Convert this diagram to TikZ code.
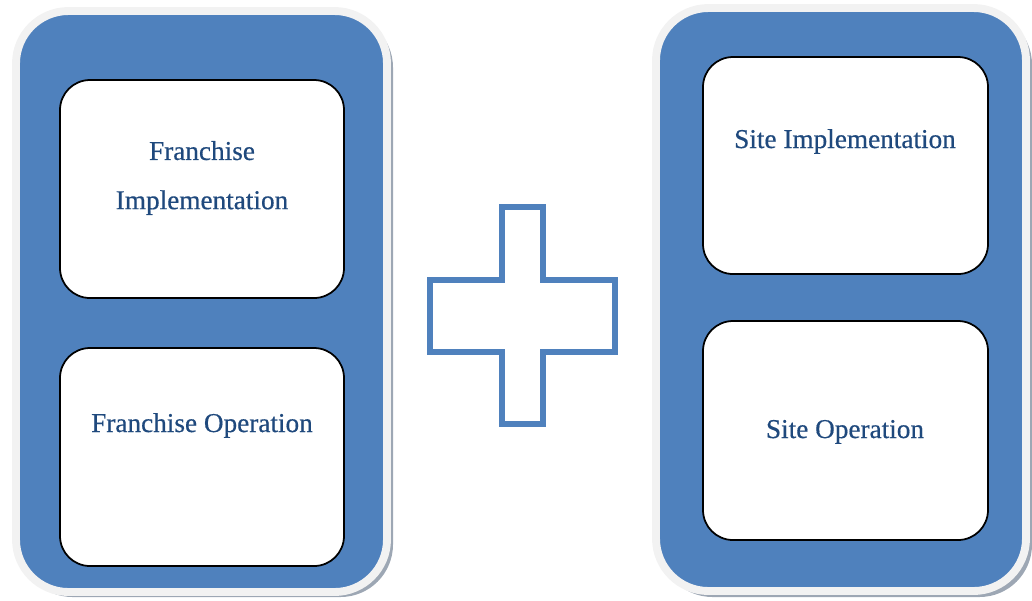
\documentclass[tikz,border=0pt]{standalone}
\usepackage{fontspec}
\setmainfont{Liberation Serif}
\newfontfamily\lblfont[FakeBold=0.5]{Liberation Serif}
\usetikzlibrary{calc}

\definecolor{panelblue}{HTML}{4F81BD}
\definecolor{textblue}{HTML}{1F497D}
\definecolor{rimgray}{HTML}{F2F2F2}
\definecolor{shadowgray}{HTML}{9DA7B4}

\tikzset{
    panel/.style={draw=rimgray, line width=4.5pt, fill=panelblue, rounded corners=1.05cm},
    panelshadow/.style={fill=shadowgray, rounded corners=1.05cm},
    box/.style={draw=black, line width=1pt, fill=white, rounded corners=0.6cm},
    lbl/.style={text=textblue, align=center, font=\lblfont\fontsize{15.5}{28}\selectfont}
}

\begin{document}
\begin{tikzpicture}[x=0.02cm, y=-0.02cm]
    \useasboundingbox (0,0) rectangle (1032,600);

    % left panel
    \fill[panelshadow] (20,15) rectangle (393,597);
    \draw[panel] (16,11) rectangle (387,592);
    \node[box, minimum width=284*0.02cm, minimum height=218*0.02cm] (fi) at (202,189) {};
    \node[box, minimum width=284*0.02cm, minimum height=218*0.02cm] (fo) at (202,457) {};
    \node[lbl] (fitext) at (202,178) {Franchise\\Implementation};
    \node[lbl, anchor=base] (fotext) at (202,432) {Franchise Operation};

    % plus sign
    \draw[panelblue, line width=3.4pt, fill=white]
        (430,280) -- (502,280) -- (502,207) -- (543,207) -- (543,280) -- (615,280)
        -- (615,352) -- (543,352) -- (543,424) -- (502,424) -- (502,352) -- (430,352) -- cycle;

    % right panel
    \fill[panelshadow] (660,12) rectangle (1032,597);
    \draw[panel] (656,8) rectangle (1026,591);
    \node[box, minimum width=285*0.02cm, minimum height=217*0.02cm] (si) at (845.5,165.5) {};
    \node[box, minimum width=285*0.02cm, minimum height=219*0.02cm] (so) at (845.5,430.5) {};
    \node[lbl, anchor=base] (sitext) at (845,148) {Site Implementation};
    \node[lbl, anchor=base] (sotext) at (845,438) {Site Operation};
\end{tikzpicture}
\end{document}
